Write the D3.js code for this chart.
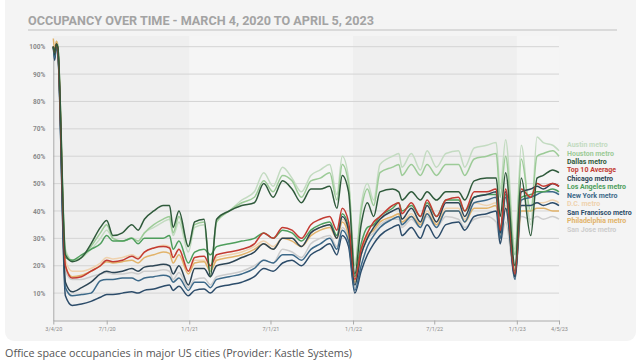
<!DOCTYPE html>
<html lang="en">
<head>
  <meta charset="UTF-8">
  <title>Occupancy over time</title>
  <style>
    body { margin: 0; background: #fff; }
  </style>
</head>
<body>
  <script src="https://cdn.jsdelivr.net/npm/d3@7"></script>
  <script>
    // weekly sample dates (holiday dips included)
    let dates = [
      "2020-03-04","2020-03-07","2020-03-11","2020-03-14","2020-03-31","2020-04-15","2020-05-06","2020-05-27","2020-06-17","2020-07-01","2020-07-15","2020-08-05","2020-08-26","2020-09-09","2020-09-23","2020-10-14","2020-11-04","2020-11-18","2020-11-26","2020-12-09","2020-12-30",
      "2021-01-13","2021-02-03","2021-02-17","2021-03-03","2021-03-31","2021-04-28","2021-05-26","2021-06-16","2021-07-07","2021-07-28","2021-08-18","2021-09-08","2021-09-29","2021-10-20","2021-11-10","2021-11-26","2021-12-08","2021-12-22",
      "2022-01-05","2022-01-19","2022-02-02","2022-02-16","2022-03-02","2022-03-30","2022-04-13","2022-04-20","2022-05-11","2022-05-31","2022-06-15","2022-07-06","2022-07-27","2022-08-24","2022-09-07","2022-09-28","2022-10-26","2022-11-16","2022-11-25","2022-12-07","2022-12-28",
      "2023-01-11","2023-02-01","2023-02-15","2023-03-01","2023-03-22","2023-04-05"
    ];

    // occupancy % per metro
    let austin = [100,98,102,101,26,22,23,26,30,33,30,29,30,29,32,34,36,37,31,36,25,
      34,35,17,36,40,44,47,54,49,56,52,47,53,55,57,46,60,52,
      20,42,50,44,57,60,61,56,61,55,62,56,61,62,56,63,64,65,48,66,26,
      64,35,67,65,64,62];
    let houston = [100,98,101,100,25,22,23,27,32,35,30,29,30,29,32,35,37,38,32,38,27,
      35,36,18,36,40,43,45,51,47,53,51,45,51,52,54,44,57,50,
      20,40,48,42,54,56,57,53,57,53,57,53,57,57,53,59,60,61,45,60,24,
      59,40,60,61,62,60];
    let dallas = [100,98,101,100,24,21.5,23,28,34,36.5,31,32,35,33,37,40,42,42,34,40,27,
      36,37,16,37,40,42,43,50,45,51,48,43,48,48,49,41,53,47,
      17,35,43,38,47,48,47,44,47,44,47,44,47,47,44,51,52,52,38,54,20,
      52,31,52,53,55,54];
    let top10 = [100,98,101,99,20,15.5,16,18,20,22,21.5,22,23.5,22.5,25,26.5,27,26.5,23,26,18,
      23,23.5,20,24,25,26,28,32,30,34,33,30,35,37,38,33,41,36,
      15,26,32,36,38,42,43,39,43,38,44,38,44,45,40,47,47,48,33,48,17,
      48,45,50,49,50,49];
    let chicago = [100,97,101,99,14,10.5,12,14,17,18,17.5,18,19,18,19.5,20,20.5,20,17,20,13,
      19,19,16,20,21,23,25,28,26,30,30,27,32,34,35,30,38,33,
      13,24,30,34,37,40,41,37,41,36,42,36,43,43,38,45,46,47,32,47,16,
      47,48,49,48,50,49];
    let losAngeles = [100,97,101,99,23,22,24,26,28,31,29,29,30,28,30,30,30,31,26,29,21,
      25,26,24,27,28,29,30,32,30,33,32,29,33,35,36,31,39,34,
      16,28,34,35,38,41,43,40,42,38,43,38,44,44,40,45,46,46,34,46,18,
      45,46,47,47,48,47];
    let newYork = [100,96,100,98,12,9,9.5,10,14.5,15,15,15.5,15.5,14.5,15.5,16,16.5,16,14,15.5,11,
      14,14,12,15,16,17,19,22,21,24,24,22,26,28,30,26,33,29,
      11,20,27,31,34,37,38,35,38,34,39,34,40,40,36,43,44,45,30,45,15,
      44,45,46,47,47,46];
    let dc = [100,98,101,99,22,18,18,19,21,23,22.5,23,24,23,25,26.5,27.5,27,23,26,18,
      22,22,19,23,24,25,27,29,27,30,30,27,32,34,35,31,37,32,
      14,25,31,33,36,38,39,36,39,35,40,36,41,41,37,43,42,43,31,42,18,
      42,42,43,43,44,43];
    let sanFrancisco = [100,95,100,98,9,5.5,6,7,8.5,9.5,9.5,10,10.5,10,11,11.5,12.5,13,11,12.5,9,
      11,11.5,10,12,13,14,16,19,18,21,22,20,24,26,28,24,31,27,
      10,18,24,28,31,34,35,31,34,30,35,30,35,36,33,38,39,40,28,41,16,
      42,42,43,42,43,42];
    let philadelphia = [103,99,102,100,20,16,16.5,18,20,21.5,21,21.5,22,21,23,24,25,24.5,21,24,17,
      21,21.5,18,22,23,24,26,28,26,30,29,27,31,33,34,30,36,31,
      14,25,31,33,36,38,39,36,38,35,39,35,40,40,36,41,41,42,30,41,17,
      40,40,41,41,40,40];
    let sanJose = [100,97,101,99,18,15,15,16,17,17.5,17,17,17.5,17,18,18,18.5,18,15,17.5,12,
      15,15.5,13,16,17,18,20,22,21,26,25,23,28,30,31,27,34,30,
      12,24,30,32,35,37,37,34,37,34,38,34,38,37,34,37,38,36,28,36,15,
      38,37,38,37,38,37];

    let legendNames = ["Austin metro", "Houston metro", "Dallas metro", "Top 10 Average", "Chicago metro",
      "Los Angeles metro", "New York metro", "D.C. metro", "San Francisco metro", "Philadelphia metro", "San Jose metro"];
    let xTicks = ["2020-03-04", "2020-07-01", "2021-01-01", "2021-07-01", "2022-01-01", "2022-07-01", "2023-01-01", "2023-04-05"];
    let yTicks = [10, 20, 30, 40, 50, 60, 70, 80, 90, 100];
    let yearStarts = ["2020-03-04", "2021-01-01", "2022-01-01", "2023-01-01", "2023-04-05"];

    let seriesValues = [austin, houston, dallas, top10, chicago, losAngeles, newYork, dc, sanFrancisco, philadelphia, sanJose];
    let colors = ["#c3dbc1", "#9ccb97", "#2f5a3b", "#c33b32", "#2d4555", "#4e9e5c", "#3c6989", "#efd2ae", "#2c4c6a", "#e2b36a", "#cdcdcd"];
    // draw light lines first, dark ones on top
    let drawOrder = [10, 7, 0, 9, 1, 8, 6, 5, 4, 3, 2];

    let width = 638;
    let height = 364;
    let svg = d3.select("body")
                .append("svg")
                .attr("width", width)
                .attr("height", height);

    let parse = d3.timeParse("%Y-%m-%d");
    let x = d3.scaleTime()
              .domain([parse("2020-03-04"), parse("2023-04-05")])
              .range([53.3, 559]);
    let y = d3.scaleLinear()
              .domain([0, 100])
              .range([320.5, 46.7]);

    // panel
    svg.append("rect")
       .attr("x", 5).attr("y", -8)
       .attr("width", 631).attr("height", 349)
       .attr("rx", 9)
       .attr("fill", "#f4f4f4");

    // title
    svg.append("text")
       .attr("x", 28).attr("y", 25)
       .attr("font-family", "'Liberation Sans Narrow', Roboto, sans-serif")
       .attr("font-weight", "bold")
       .attr("font-size", 13.5)
       .attr("textLength", 346)
       .attr("lengthAdjust", "spacingAndGlyphs")
       .attr("fill", "#a3a3a3")
       .text("OCCUPANCY OVER TIME - MARCH 4, 2020 TO APRIL 5, 2023");
    svg.append("line")
       .attr("x1", 28).attr("x2", 617)
       .attr("y1", 30).attr("y2", 30)
       .attr("stroke", "#d2d2d2")
       .attr("stroke-width", 1.5);

    // year bands
    let bands = d3.pairs(yearStarts.map(parse));
    svg.selectAll("rect.band")
       .data(bands)
       .enter()
       .append("rect")
       .attr("class", "band")
       .attr("x", d => x(d[0]))
       .attr("width", d => x(d[1]) - x(d[0]))
       .attr("y", 36)
       .attr("height", y(0) - 36)
       .attr("fill", (d, i) => i % 2 === 0 ? "#efefef" : "#f5f5f5");

    // grid
    svg.selectAll("line.grid")
       .data(yTicks)
       .enter()
       .append("line")
       .attr("class", "grid")
       .attr("x1", x.range()[0]).attr("x2", x.range()[1])
       .attr("y1", d => y(d)).attr("y2", d => y(d))
       .attr("stroke", "#d4d4d4")
       .attr("stroke-width", 1);

    // axes
    let yAxis = d3.axisLeft(y)
                  .tickValues(yTicks)
                  .tickSize(0)
                  .tickPadding(8)
                  .tickFormat(d => d + "%");
    let gy = svg.append("g")
                .attr("transform", "translate(53.3, 0)")
                .call(yAxis);
    gy.select(".domain").attr("stroke", "#aaa");
    gy.selectAll("text")
      .attr("font-family", "Roboto, sans-serif")
      .attr("font-weight", "bold")
      .attr("font-size", 6.5)
      .attr("fill", "#8a8a8a");

    let xAxis = d3.axisBottom(x)
                  .tickValues(xTicks.map(parse))
                  .tickSize(4)
                  .tickSizeOuter(0)
                  .tickFormat(d3.timeFormat("%-m/%-d/%y"));
    let gx = svg.append("g")
                .attr("transform", "translate(0," + y(0) + ")")
                .call(xAxis);
    gx.select(".domain").attr("stroke", "#aaa");
    gx.selectAll("line").attr("stroke", "#aaa");
    gx.selectAll("text")
      .attr("font-family", "Roboto, sans-serif")
      .attr("font-size", 5.5)
      .attr("fill", "#8a8a8a");

    // lines
    let line = d3.line()
                 .x((d, i) => x(parse(dates[i])))
                 .y(d => y(d))
                 .curve(d3.curveMonotoneX);
    svg.selectAll("path.series")
       .data(drawOrder)
       .enter()
       .append("path")
       .attr("class", "series")
       .attr("d", k => line(seriesValues[k]))
       .attr("fill", "none")
       .attr("stroke", k => colors[k])
       .attr("stroke-width", 1.5)
       .attr("stroke-linejoin", "round");

    // legend
    svg.selectAll("text.legend")
       .data(legendNames)
       .enter()
       .append("text")
       .attr("class", "legend")
       .attr("x", 567)
       .attr("y", (d, i) => 147.2 + i * 8.43)
       .attr("font-family", "Roboto, sans-serif")
       .attr("font-weight", "bold")
       .attr("font-size", 7)
       .attr("fill", (d, i) => colors[i])
       .text(d => d);

    // caption
    svg.append("text")
       .attr("x", 5).attr("y", 357)
       .attr("font-family", "'Open Sans', sans-serif")
       .attr("font-size", 11)
       .attr("textLength", 347)
       .attr("lengthAdjust", "spacingAndGlyphs")
       .attr("fill", "#555")
       .text("Office space occupancies in major US cities (Provider: Kastle Systems)");
  </script>
</body>
</html>
